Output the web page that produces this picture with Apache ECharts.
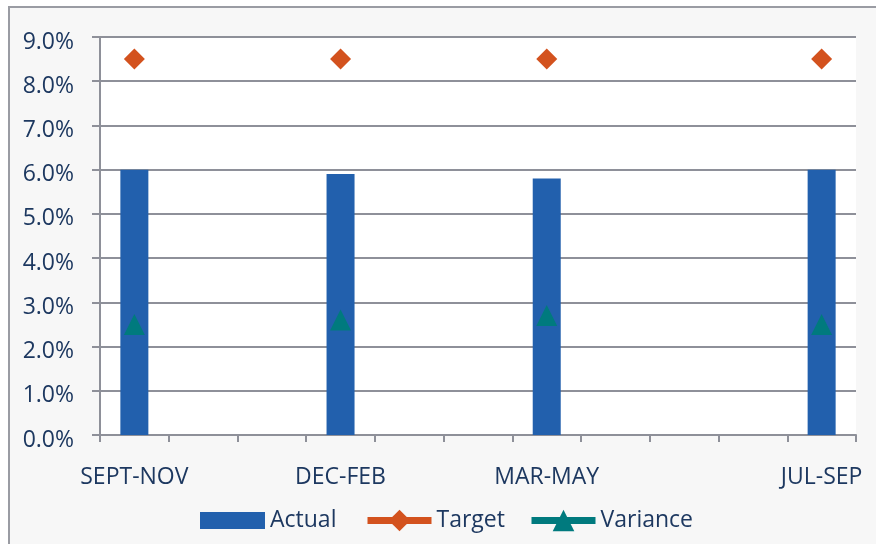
<!DOCTYPE html>
<html>
<head>
<meta charset="utf-8">
<script src="https://cdn.jsdelivr.net/npm/echarts@6/dist/echarts.min.js"></script>
<style>
  html, body { margin: 0; padding: 0; background: #ffffff; }
  #chart { width: 876px; height: 544px; }
</style>
</head>
<body>
<div id="chart"></div>
<script>
// Categories (11 slots; only 4 carry data/labels)
const categories = ['SEPT-NOV', '', '', 'DEC-FEB', '', '', 'MAR-MAY', '', '', '', 'JUL-SEP'];
// Values in percent
const actual   = [6.0, '-', '-', 5.9, '-', '-', 5.8, '-', '-', '-', 6.0];
const target   = [8.5, '-', '-', 8.5, '-', '-', 8.5, '-', '-', '-', 8.5];
const variance = [2.5, '-', '-', 2.6, '-', '-', 2.7, '-', '-', '-', 2.5];
const yTicks = { min: 0, max: 9, interval: 1 };

const TXT = '#1d3860';
const GRID = '#8e9099';
const FONT = 'Open Sans';
const FS = 23;

const legendBase = {
  top: 509, itemGap: 0, padding: 0,
  textStyle: { fontFamily: FONT, fontSize: FS, color: TXT },
  lineStyle: { width: 7 }
};

const chart = echarts.init(document.getElementById('chart'), null, { renderer: 'canvas' });
chart.setOption({
  animation: false,
  backgroundColor: 'transparent',
  textStyle: { fontFamily: FONT, color: TXT },
  graphic: [{
    type: 'rect', z: -100, silent: true,
    shape: { x: 9, y: 7, width: 900, height: 600 },
    style: { fill: '#f7f7f7', stroke: '#9a9ca3', lineWidth: 2 }
  }],
  grid: {
    left: 100, right: 20, top: 37, bottom: 109,
    show: true, backgroundColor: '#ffffff', borderWidth: 0
  },
  legend: [
    Object.assign({}, legendBase, {
      data: [{ name: 'Actual', icon: 'rect' }],
      left: 200, itemWidth: 65, itemHeight: 17
    }),
    Object.assign({}, legendBase, {
      data: ['Target'],
      left: 364, itemWidth: 64, itemHeight: 27
    }),
    Object.assign({}, legendBase, {
      data: ['Variance'],
      left: 528, itemWidth: 64, itemHeight: 27
    })
  ],
  xAxis: {
    type: 'category',
    data: categories,
    boundaryGap: true,
    axisLine: { lineStyle: { color: GRID, width: 2 } },
    axisTick: { show: true, length: 7, lineStyle: { color: GRID, width: 2 } },
    axisLabel: { interval: 0, margin: 31, fontFamily: FONT, fontSize: FS, color: TXT },
    splitLine: { show: false }
  },
  yAxis: {
    type: 'value',
    min: yTicks.min, max: yTicks.max, interval: yTicks.interval,
    axisLine: { show: true, lineStyle: { color: GRID, width: 2 } },
    axisTick: { show: true, length: 8, lineStyle: { color: GRID, width: 2 } },
    axisLabel: {
      margin: 26, fontFamily: FONT, fontSize: FS, color: TXT,
      verticalAlign: 'top', lineHeight: 10,
      formatter: v => v.toFixed(1) + '%'
    },
    splitLine: { show: true, lineStyle: { color: GRID, width: 2 } }
  },
  series: [
    {
      name: 'Actual', type: 'bar', data: actual, barWidth: 28,
      itemStyle: { color: '#2260ad' }, z: 2
    },
    {
      name: 'Target', type: 'line', data: target,
      symbol: 'diamond', symbolSize: 21, showAllSymbol: true, connectNulls: false,
      itemStyle: { color: '#d3521e' },
      lineStyle: { color: '#d3521e', width: 7 }, z: 3
    },
    {
      name: 'Variance', type: 'line', data: variance,
      symbol: 'triangle', symbolSize: 21, showAllSymbol: true, connectNulls: false,
      itemStyle: { color: '#007a7e' },
      lineStyle: { color: '#007a7e', width: 7 }, z: 4
    }
  ]
});
</script>
</body>
</html>
